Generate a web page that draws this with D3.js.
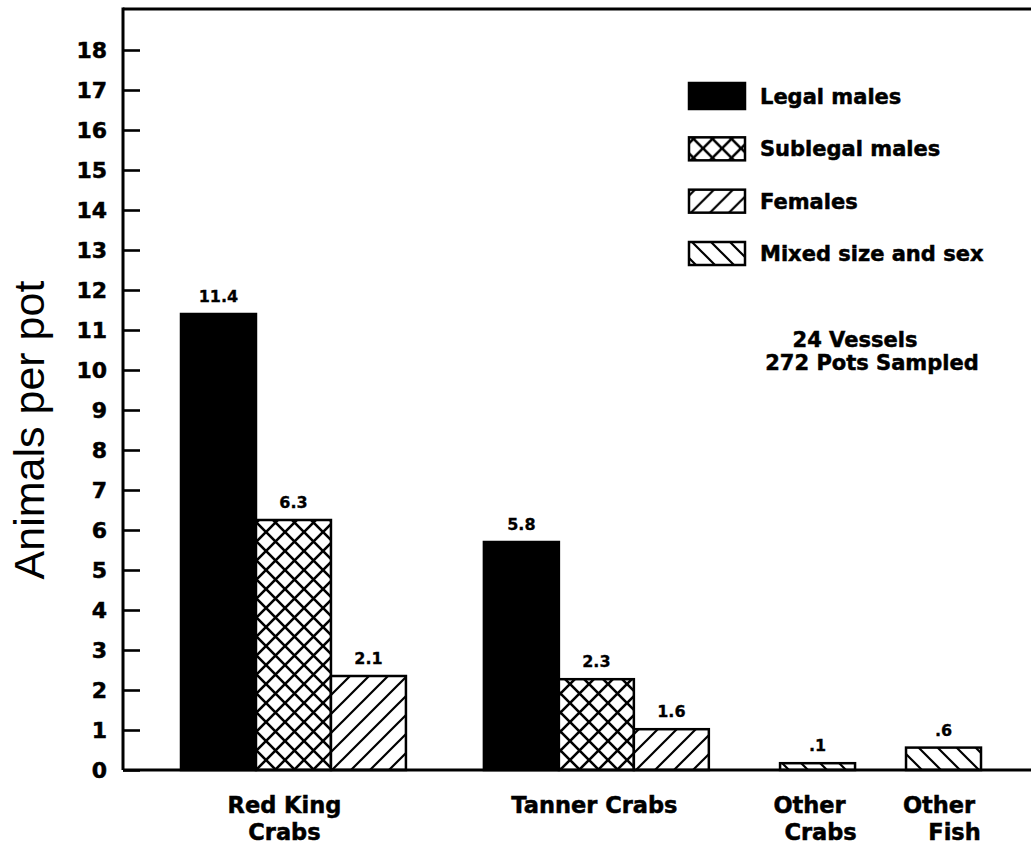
<!DOCTYPE html>
<html>
<head>
<meta charset="utf-8">
<script src="https://cdn.jsdelivr.net/npm/d3@7"></script>
<style>
  html, body { margin: 0; padding: 0; background: #fff; }
  svg { display: block; }
</style>
</head>
<body>
<svg id="chart" width="1031" height="846"></svg>
<script>
// ---------- data ----------
const categories = ["Red King Crabs", "Tanner Crabs", "Other Crabs", "Other Fish"];
const categoryLines = [["Red King", "Crabs"], ["Tanner Crabs"], ["Other", "Crabs"], ["Other", "Fish"]];
const seriesNames = ["Legal males", "Sublegal males", "Females", "Mixed size and sex"];
const seriesKeys = ["legal", "sublegal", "females", "mixed"];

// bar heights as drawn (animals per pot)
const redKingValues = [11.4, 6.25, 2.35];      // legal, sublegal, females
const tannerValues = [5.7, 2.27, 1.02];        // legal, sublegal, females
const otherCrabsValues = [0.17];               // mixed
const otherFishValues = [0.56];                // mixed

// printed value labels
const redKingLabels = ["11.4", "6.3", "2.1"];
const tannerLabels = ["5.8", "2.3", "1.6"];
const otherCrabsLabels = [".1"];
const otherFishLabels = [".6"];

const yTickValues = [0, 1, 2, 3, 4, 5, 6, 7, 8, 9, 10, 11, 12, 13, 14, 15, 16, 17, 18];
const yLabel = "Animals per pot";
const noteLines = ["24 Vessels", "272 Pots Sampled"];

// ---------- build table ----------
const groups = [
  { name: categories[0], lines: categoryLines[0], keys: ["legal", "sublegal", "females"], values: redKingValues, labels: redKingLabels },
  { name: categories[1], lines: categoryLines[1], keys: ["legal", "sublegal", "females"], values: tannerValues, labels: tannerLabels },
  { name: categories[2], lines: categoryLines[2], keys: ["mixed"], values: otherCrabsValues, labels: otherCrabsLabels },
  { name: categories[3], lines: categoryLines[3], keys: ["mixed"], values: otherFishValues, labels: otherFishLabels }
];

// layout (slot units: one slot = one bar width)
const gapBefore = [0, 1.04, 0.95, 0.68];
const labelShift = [-9, -2, -8, -4.5];
const secondLineShift = [0, 0, 11, 15.5];
let cursor = 0;
groups.forEach((g, i) => {
  cursor += gapBefore[i];
  g.start = cursor;
  cursor += g.keys.length;
  g.end = cursor;
  g.shift = labelShift[i];
  g.shift2 = secondLineShift[i];
});
const totalSlots = cursor;

const svg = d3.select("#chart");
const plot = { left: 123, top: 9, right: 1031, bottom: 770 };

const x = d3.scaleLinear().domain([0, totalSlots]).range([181, 981]);
const y = d3.scaleLinear().domain([0, 19]).range([plot.bottom, plot.bottom - 19 * 40]);

const bars = [];
groups.forEach(g => {
  g.keys.forEach((k, j) => {
    bars.push({ group: g.name, key: k, value: g.values[j], label: g.labels[j], s0: g.start + j, s1: g.start + j + 1 });
  });
});

// ---------- patterns ----------
const defs = svg.append("defs");
const cross = defs.append("pattern").attr("id", "pat-sublegal")
  .attr("patternUnits", "userSpaceOnUse").attr("width", 19).attr("height", 19);
cross.append("rect").attr("width", 19).attr("height", 19).attr("fill", "#fff");
cross.append("path").attr("d", "M-2,-2L21,21M21,-2L-2,21")
  .attr("stroke", "#000").attr("stroke-width", 2.6);

const fwd = defs.append("pattern").attr("id", "pat-females")
  .attr("patternUnits", "userSpaceOnUse").attr("width", 19).attr("height", 19);
fwd.append("rect").attr("width", 19).attr("height", 19).attr("fill", "#fff");
fwd.append("path").attr("d", "M-5,5L5,-5M0,19L19,0M14,24L24,14")
  .attr("stroke", "#000").attr("stroke-width", 2.2);

const bwd = defs.append("pattern").attr("id", "pat-mixed")
  .attr("patternUnits", "userSpaceOnUse").attr("width", 19).attr("height", 19);
bwd.append("rect").attr("width", 19).attr("height", 19).attr("fill", "#fff");
bwd.append("path").attr("d", "M-5,14L5,24M0,0L19,19M14,-5L24,5")
  .attr("stroke", "#000").attr("stroke-width", 2.2);

const fillFor = k => k === "legal" ? "#000" : `url(#pat-${k})`;

const boldText = sel => sel
  .attr("font-family", "DejaVu Sans, sans-serif")
  .attr("font-weight", "bold")
  .attr("fill", "#000")
  .attr("stroke", "#000")
  .attr("stroke-width", 0.5);

// ---------- frame ----------
svg.append("line").attr("x1", plot.left).attr("x2", plot.right).attr("y1", plot.top).attr("y2", plot.top)
  .attr("stroke", "#000").attr("stroke-width", 3);

// ---------- bars ----------
svg.append("g").selectAll("rect").data(bars).join("rect")
  .attr("x", d => x(d.s0))
  .attr("width", d => x(d.s1) - x(d.s0))
  .attr("y", d => y(d.value))
  .attr("height", d => y(0) - y(d.value))
  .attr("fill", d => fillFor(d.key))
  .attr("stroke", "#000")
  .attr("stroke-width", 2.5);

// value labels
svg.append("g").selectAll("text").data(bars).join("text")
  .attr("x", d => (x(d.s0) + x(d.s1)) / 2)
  .attr("y", d => y(d.value) - 12)
  .attr("text-anchor", "middle")
  .attr("font-size", 16)
  .call(boldText)
  .attr("stroke-width", 0.3)
  .text(d => d.label);

// ---------- y axis ----------
const yAxis = d3.axisLeft(y).tickValues(yTickValues).tickSize(-17).tickPadding(16).tickFormat(d3.format("d"));
const yg = svg.append("g").attr("transform", `translate(${plot.left},0)`).call(yAxis);
yg.select(".domain").remove();
yg.selectAll(".tick line").attr("stroke", "#000").attr("stroke-width", 2.6);
yg.selectAll(".tick text")
  .attr("font-size", 22)
  .call(boldText);
svg.append("line").attr("x1", plot.left).attr("x2", plot.left)
  .attr("y1", plot.top - 1.5).attr("y2", plot.bottom)
  .attr("stroke", "#000").attr("stroke-width", 3);
// baseline
svg.append("line").attr("x1", plot.left).attr("x2", plot.right)
  .attr("y1", y(0)).attr("y2", y(0))
  .attr("stroke", "#000").attr("stroke-width", 3);

svg.append("text")
  .attr("transform", `translate(44,430) rotate(-90)`)
  .attr("text-anchor", "middle")
  .attr("font-family", "Liberation Sans, Arial, sans-serif")
  .attr("font-size", 43)
  .text(yLabel);

// ---------- category labels ----------
const catG = svg.append("g").selectAll("text").data(groups).join("text")
  .attr("text-anchor", "middle")
  .attr("font-size", 22.5)
  .call(boldText)
  .attr("transform", d => `translate(${(x(d.start) + x(d.end)) / 2 + d.shift},813)`);
catG.selectAll("tspan").data(d => d.lines.map((t, i) => ({ t, i, s: d.shift2 }))).join("tspan")
  .attr("x", d => d.i === 0 ? 0 : d.s)
  .attr("dy", d => d.i === 0 ? 0 : 27)
  .text(d => d.t);

// ---------- legend ----------
const legendY = d3.scalePoint().domain(seriesKeys).range([96, 253]);
const leg = svg.append("g").selectAll("g").data(seriesKeys).join("g")
  .attr("transform", k => `translate(0,${legendY(k)})`);
leg.append("rect")
  .attr("x", 689).attr("width", 56)
  .attr("y", k => k === "legal" ? -13 : -11)
  .attr("height", k => k === "legal" ? 26 : 23)
  .attr("fill", k => fillFor(k))
  .attr("stroke", "#000").attr("stroke-width", 2.5);
leg.append("text")
  .attr("x", 760).attr("y", 8)
  .attr("font-size", 21)
  .call(boldText)
  .text((k, i) => seriesNames[i]);

// ---------- note ----------
svg.append("g").selectAll("text").data(noteLines).join("text")
  .attr("x", (d, i) => i === 0 ? 855 : 872)
  .attr("y", (d, i) => 347 + i * 23)
  .attr("text-anchor", "middle")
  .attr("font-size", 21)
  .call(boldText)
  .text(d => d);
</script>
</body>
</html>
